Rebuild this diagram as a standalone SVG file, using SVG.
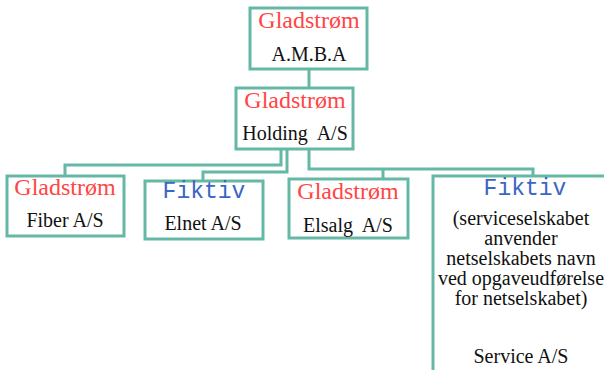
<svg xmlns="http://www.w3.org/2000/svg" width="604" height="370" viewBox="0 0 604 370">
<style>
.box{fill:#fff;stroke:#66B8A6;stroke-width:3}
.conn{fill:none;stroke:#66B8A6;stroke-width:3}
.gl{font-family:"Liberation Serif","Times New Roman",serif;font-size:24px;fill:#FF4545;text-anchor:middle}
.fk{font-family:"Liberation Mono","Courier New",monospace;font-size:23px;fill:#3B66C4;text-anchor:middle}
.t{font-family:"Liberation Serif","Times New Roman",serif;font-size:20px;fill:#111;text-anchor:middle}
</style>
<rect width="604" height="370" fill="#fff"/>
<g id="connectors">
<path class="conn" d="M309,69 V88"/>
<path class="conn" d="M281,149 V165 H65 V176"/>
<path class="conn" d="M287,149 V172 H203 V181"/>
<path class="conn" d="M309,149 V169 H533 V176"/>
<path class="conn" d="M383,169 V179"/>
</g>
<g id="amba">
<rect class="box" x="250" y="8" width="117" height="61"/>
<text class="gl" x="309" y="28">Gladstrøm</text>
<text class="t" x="309" y="61">A.M.B.A</text>
</g>
<g id="holding">
<rect class="box" x="236" y="88" width="117" height="61"/>
<text class="gl" x="295" y="108">Gladstrøm</text>
<text class="t" x="295" y="140" xml:space="preserve">Holding  A/S</text>
</g>
<g id="fiber">
<rect class="box" x="7" y="176" width="117" height="60"/>
<text class="gl" x="65" y="195">Gladstrøm</text>
<text class="t" x="65" y="227">Fiber A/S</text>
</g>
<g id="elnet">
<rect class="box" x="145" y="181" width="118" height="58"/>
<text class="fk" x="204" y="198">Fiktiv</text>
<text class="t" x="203" y="230">Elnet A/S</text>
</g>
<g id="elsalg">
<rect class="box" x="289" y="179" width="119" height="59"/>
<text class="gl" x="348" y="199">Gladstrøm</text>
<text class="t" x="348" y="232" xml:space="preserve">Elsalg  A/S</text>
</g>
<g id="service">
<rect class="box" x="433" y="176" width="180" height="210"/>
<text class="fk" x="525" y="195">Fiktiv</text>
<text class="t" x="521" y="225"><tspan x="521" y="225">(serviceselskabet</tspan><tspan x="521" y="245">anvender</tspan><tspan x="521" y="265">netselskabets navn</tspan><tspan x="521" y="285">ved opgaveudførelse</tspan><tspan x="521" y="305">for netselskabet)</tspan></text>
<text class="t" x="521" y="363">Service A/S</text>
</g>
</svg>
